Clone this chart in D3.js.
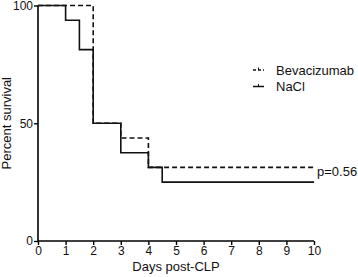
<!DOCTYPE html>
<html>
<head>
<meta charset="utf-8">
<script src="https://cdn.jsdelivr.net/npm/d3@7"></script>
<style>
  body { margin: 0; background: #fff; }
  text { font-family: "Liberation Sans", Arial, sans-serif; fill: #111; }
</style>
</head>
<body>
<div id="app"></div>
<script>
// survival steps: [day, percent]
const bevaSteps = [[0, 100], [2, 50], [3, 43.75], [4, 31.25], [10, 31.25]]
const naclSteps = [[0, 100], [1, 93.75], [1.5, 81.25], [2, 50], [3, 37.5], [4, 31.25], [4.5, 25], [10, 25]]
const xTicks = [0, 1, 2, 3, 4, 5, 6, 7, 8, 9, 10]
const yTicks = [0, 50, 100]
const legendNames = ['Bevacizumab', 'NaCl']
const pLabel = 'p=0.56'

const width = 358, height = 277
const svg = d3.select('#app').append('svg')
    .attr('width', width).attr('height', height)

const x = d3.scaleLinear().domain([0, 10]).range([38, 314])
const y = d3.scaleLinear().domain([0, 100]).range([241, 5.5])

const line = d3.line()
    .x(d => x(d[0]))
    .y(d => y(d[1]))
    .curve(d3.curveStepAfter)

svg.append('path')
    .attr('d', line(naclSteps))
    .attr('fill', 'none').attr('stroke', '#111').attr('stroke-width', 1.6)

svg.append('path')
    .attr('d', line(bevaSteps))
    .attr('fill', 'none').attr('stroke', '#111').attr('stroke-width', 1.6)
    .attr('stroke-dasharray', '5,3')

// axes
const xAxis = svg.append('g')
    .attr('transform', `translate(0,${y(0)})`)
    .call(d3.axisBottom(x).tickValues(xTicks).tickSize(4).tickPadding(1))
xAxis.select('.domain').attr('d', `M${x(0)},0H${x(10)}`).attr('stroke-width', 1.6)
xAxis.selectAll('.tick line').attr('stroke-width', 1.4)
xAxis.selectAll('text').style('font-size', '12px').attr('fill', '#111')

const yAxis = svg.append('g')
    .attr('transform', `translate(${x(0)},0)`)
    .call(d3.axisLeft(y).tickValues(yTicks).tickSize(4).tickPadding(1))
yAxis.select('.domain').attr('d', `M0,${y(0)}V${y(100)}`).attr('stroke-width', 1.6)
yAxis.selectAll('.tick line').attr('stroke-width', 1.4)
yAxis.selectAll('text').style('font-size', '12px').attr('fill', '#111')

svg.append('text')
    .attr('x', 176).attr('y', 271)
    .attr('text-anchor', 'middle')
    .style('font-size', '13px')
    .text('Days post-CLP')

svg.append('text')
    .attr('transform', `translate(11,${y(50)}) rotate(-90)`)
    .attr('text-anchor', 'middle')
    .style('font-size', '13px')
    .text('Percent survival')

// legend
const legend = svg.append('g')
legendNames.forEach((name, i) => {
    const ly = 70 + i * 16.5
    legend.append('line')
        .attr('x1', 253).attr('x2', 264).attr('y1', ly).attr('y2', ly)
        .attr('stroke', '#111').attr('stroke-width', 1.5)
        .attr('stroke-dasharray', i === 0 ? '3,2' : null)
    legend.append('line')
        .attr('x1', 258.5).attr('x2', 258.5).attr('y1', ly - 2.5).attr('y2', ly)
        .attr('stroke', '#111').attr('stroke-width', 1)
    legend.append('text')
        .attr('x', 276).attr('y', ly + 4.5)
        .style('font-size', '13px')
        .text(name)
})

svg.append('text')
    .attr('x', 317).attr('y', y(31.25) + 8.5)
    .style('font-size', '13px')
    .text(pLabel)
</script>
</body>
</html>
